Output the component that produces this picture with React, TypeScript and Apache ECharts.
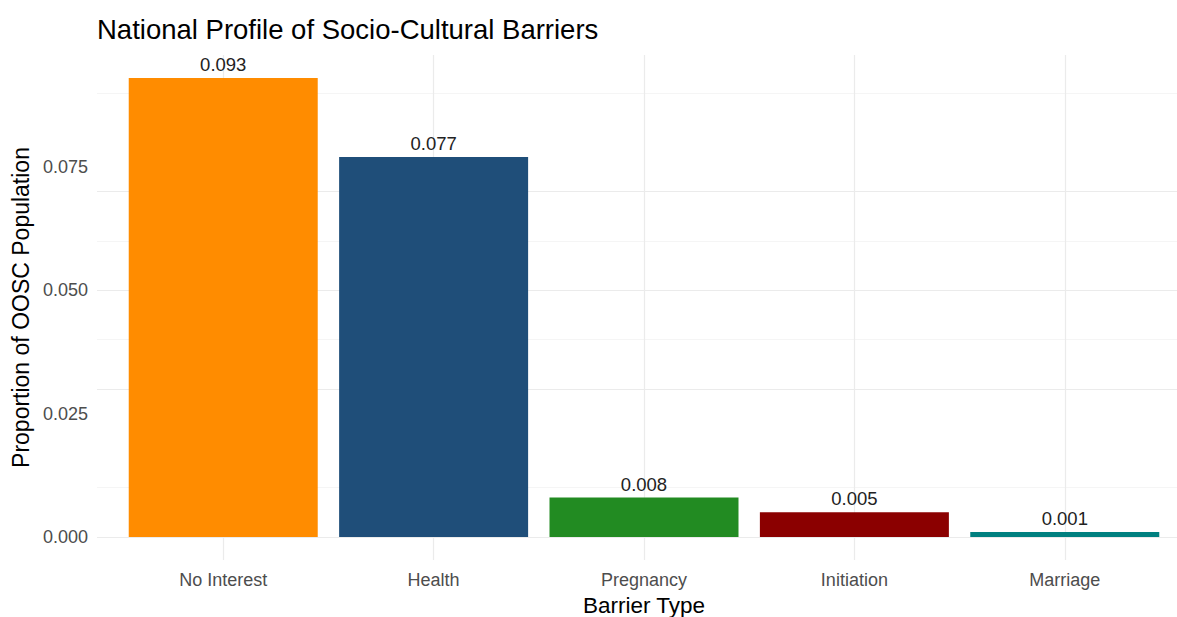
import React, { useEffect, useRef } from "react";
import * as echarts from "echarts";

const categories = ["No Interest", "Health", "Pregnancy", "Initiation", "Marriage"];
const values = [0.093, 0.077, 0.008, 0.005, 0.001];
const colors = ["#FF8C00", "#1F4E79", "#228B22", "#8B0000", "#008080"];
const yTicks = [0, 0.025, 0.05, 0.075];
const yMinor = [0.0125, 0.0375, 0.0625, 0.0875];

const FONT = "Liberation Sans, Arial, sans-serif";

export default function App() {
  const ref = useRef<HTMLDivElement>(null);
  useEffect(() => {
    if (!ref.current) return;
    const chart = echarts.init(ref.current, null, { renderer: "svg" });
    const positions = categories.map((_, i) => i + 1);
    chart.setOption({
      animation: false,
      backgroundColor: "#ffffff",
      textStyle: { fontFamily: FONT },
      title: {
        text: "National Profile of Socio-Cultural Barriers",
        left: 92,
        top: 10,
        textStyle: { fontSize: 27.5, fontWeight: "normal", color: "#000", fontFamily: FONT },
      },
      grid: { left: 97, top: 55, width: 1094, height: 505, outerBoundsMode: "none", containLabel: false },
      xAxis: {
        type: "value",
        min: 0.4,
        max: 5.6,
        name: "Barrier Type",
        nameLocation: "middle",
        nameGap: 34,
        nameTextStyle: { fontSize: 22.5, color: "#000", fontFamily: FONT },
        axisLine: { show: false },
        axisTick: { show: false },
        splitLine: { show: false },
        axisLabel: {
          customValues: positions,
          formatter: (v: number) => categories[Math.round(v) - 1] ?? "",
          fontSize: 18,
          color: "#4d4d4d",
          margin: 11,
          fontFamily: FONT,
        },
      },
      yAxis: {
        type: "value",
        min: -0.00465,
        max: 0.09765,
        name: "Proportion of OOSC Population",
        nameLocation: "middle",
        nameGap: 63,
        nameTextStyle: { fontSize: 23, color: "#000", fontFamily: FONT },
        axisLine: { show: false },
        axisTick: { show: false },
        splitLine: { show: false },
        axisLabel: {
          customValues: yTicks,
          formatter: (v: number) => v.toFixed(3),
          fontSize: 18,
          color: "#4d4d4d",
          margin: 9,
          fontFamily: FONT,
        },
      },
      series: [
        {
          type: "bar",
          barWidth: 189,
          z: 3,
          data: values.map((v, i) => ({
            value: [i + 1, v],
            itemStyle: { color: colors[i] },
          })),
          label: {
            show: true,
            position: "top",
            distance: 4,
            formatter: (p: any) => p.value[1].toFixed(3),
            fontSize: 18.5,
            color: "#222",
            fontFamily: FONT,
          },
          markLine: {
            silent: true,
            symbol: "none",
            label: { show: false },
            z: 1,
            data: [
              ...yTicks.map((v) => ({ yAxis: v, lineStyle: { color: "#ebebeb", width: 1.2, type: "solid" } })),
              ...yMinor.map((v) => ({ yAxis: v, lineStyle: { color: "#f2f2f2", width: 0.8, type: "solid" } })),
              ...positions.map((v) => ({ xAxis: v, lineStyle: { color: "#ebebeb", width: 1.2, type: "solid" } })),
            ],
          },
        },
      ],
    });
    return () => chart.dispose();
  }, []);
  return (
    <div
      ref={ref}
      style={{ position: "fixed", left: 0, top: 0, width: 1177, height: 617, overflow: "hidden" }}
    />
  );
}
